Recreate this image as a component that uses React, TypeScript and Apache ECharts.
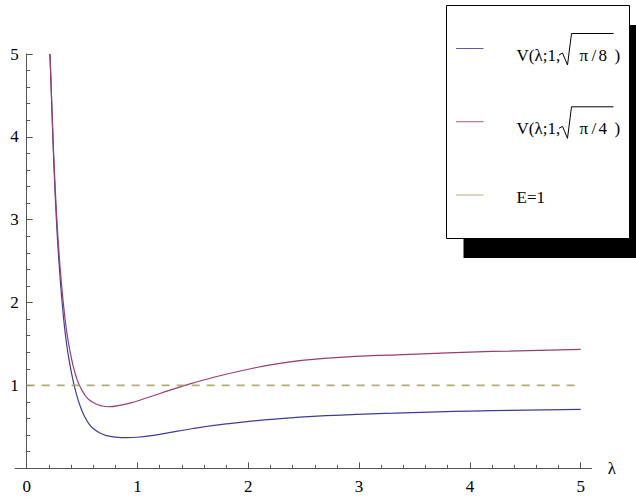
import React, { useEffect, useRef } from "react";
import * as echarts from "echarts";

// ---- data ----
const lambdaBlue = [0.21, 0.24, 0.27, 0.3, 0.33, 0.36, 0.39, 0.42, 0.45, 0.48, 0.52, 0.56, 0.6, 0.66, 0.72, 0.8, 0.9, 1.0, 1.2, 1.5, 1.8, 2.2, 2.7, 3.4, 4.2, 5.0];
const vBlue = [5.0, 3.85, 2.95, 2.33, 1.85, 1.5, 1.25, 1.05, 0.89, 0.76, 0.63, 0.54, 0.48, 0.425, 0.395, 0.377, 0.37, 0.375, 0.41, 0.48, 0.535, 0.59, 0.635, 0.67, 0.695, 0.712];

const lambdaPurple = [0.21, 0.24, 0.27, 0.3, 0.33, 0.36, 0.39, 0.42, 0.45, 0.48, 0.52, 0.56, 0.62, 0.68, 0.74, 0.85, 0.963, 1.08, 1.204, 1.415, 1.656, 1.927, 2.3, 2.75, 3.4, 4.2, 5.0];
const vPurple = [5.0, 3.9, 3.05, 2.45, 2.0, 1.66, 1.42, 1.23, 1.09, 0.99, 0.895, 0.83, 0.78, 0.752, 0.743, 0.762, 0.797, 0.848, 0.903, 0.995, 1.087, 1.174, 1.27, 1.333, 1.373, 1.41, 1.436];

const energyLambda = [0, 5];
const energyValue = [1, 1];

const xRange = [0, 5];
const yRange = [0, 5];
const axisLineRange = [-0.1057, 5.0994];

const seriesNames = ["V(λ;1,√(π/8))", "V(λ;1,√(π/4))", "E=1"];

const BLUE = "#3d3d99";
const PURPLE = "#993d71";
const OLIVE = "#a89c5c";
const AXIS = "#555555";
const FONT = "Liberation Serif";

const pairs = (xs: number[], ys: number[]) => xs.map((x, i) => [x, ys[i]]);

export default function App() {
  const ref = useRef<HTMLDivElement>(null);
  useEffect(() => {
    if (!ref.current) return;
    const chart = echarts.init(ref.current, undefined, { renderer: "svg" });

    const legendText = (x: number, y: number, text: string) => ({
      type: "text",
      x,
      y,
      z: 102,
      style: { text, fill: "#000", fontFamily: FONT, fontSize: 17, textVerticalAlign: "middle" },
    });

    const radical = (dy: number) => ({
      type: "polyline",
      z: 102,
      shape: {
        points: [
          [559, 55 + dy],
          [562.5, 53 + dy],
          [567.5, 65 + dy],
          [571.5, 33.5 + dy],
          [613.5, 33.5 + dy],
        ],
      },
      style: { stroke: "#000", lineWidth: 1, fill: null },
    });

    const entry = (dy: number, denom: string) => [
      legendText(516.5, 55.5 + dy, "V(λ;1,"),
      radical(dy),
      legendText(579.5, 55.5 + dy, "π"),
      legendText(591.5, 55.5 + dy, "/"),
      legendText(598.5, 55.5 + dy, denom),
      legendText(614.5, 55.5 + dy, ")"),
    ];

    chart.setOption({
      animation: false,
      backgroundColor: "#ffffff",
      grid: [
        { left: 26.7, right: 55.3, top: 54, bottom: 28.7, containLabel: false, outerBoundsMode: "none" },
        { left: 15, right: 44.3, top: 54, bottom: 28.7, containLabel: false, outerBoundsMode: "none" },
      ],
      xAxis: [
        {
          type: "value",
          gridIndex: 0,
          min: xRange[0],
          max: xRange[1],
          interval: 1,
          position: "bottom",
          axisLine: { show: false },
          axisTick: { show: true, inside: true, length: 6, lineStyle: { color: AXIS } },
          minorTick: { show: true, splitNumber: 5, length: 3.5, lineStyle: { color: AXIS } },
          axisLabel: { show: true, margin: 10, fontFamily: FONT, fontSize: 17, color: "#000" },
          splitLine: { show: false },
          minorSplitLine: { show: false },
        },
        {
          type: "value",
          gridIndex: 1,
          min: axisLineRange[0],
          max: axisLineRange[1],
          position: "bottom",
          name: "λ",
          nameLocation: "end",
          nameGap: 16,
          nameTextStyle: { fontFamily: FONT, fontSize: 17, color: "#000", padding: [0, 0, 4, 0] },
          axisLine: { show: true, onZero: false, lineStyle: { color: AXIS, width: 1 } },
          axisTick: { show: false },
          axisLabel: { show: false },
          splitLine: { show: false },
        },
      ],
      yAxis: [
        {
          type: "value",
          gridIndex: 0,
          min: yRange[0],
          max: yRange[1],
          interval: 1,
          axisLine: { show: true, onZero: false, lineStyle: { color: AXIS, width: 1 } },
          axisTick: { show: true, inside: true, length: 6, lineStyle: { color: AXIS } },
          minorTick: { show: true, splitNumber: 5, length: 3.5, lineStyle: { color: AXIS } },
          axisLabel: {
            margin: 8,
            fontFamily: FONT,
            fontSize: 17,
            color: "#000",
            formatter: (v: number) => (v === 0 ? "" : String(v)),
          },
          splitLine: { show: false },
          minorSplitLine: { show: false },
        },
        {
          type: "value",
          gridIndex: 1,
          min: yRange[0],
          max: yRange[1],
          show: false,
        },
      ],
      series: [
        {
          name: seriesNames[0],
          type: "line",
          xAxisIndex: 0,
          yAxisIndex: 0,
          data: pairs(lambdaBlue, vBlue),
          showSymbol: false,
          smooth: 0.5,
          lineStyle: { color: BLUE, width: 1.2 },
          itemStyle: { color: BLUE },
          clip: true,
        },
        {
          name: seriesNames[1],
          type: "line",
          xAxisIndex: 0,
          yAxisIndex: 0,
          data: pairs(lambdaPurple, vPurple),
          showSymbol: false,
          smooth: 0.5,
          lineStyle: { color: PURPLE, width: 1.2 },
          itemStyle: { color: PURPLE },
          clip: true,
        },
        {
          name: seriesNames[2],
          type: "line",
          xAxisIndex: 0,
          yAxisIndex: 0,
          data: pairs(energyLambda, energyValue),
          showSymbol: false,
          lineStyle: { color: OLIVE, width: 1.8, type: [8, 7], opacity: 0.85 },
          itemStyle: { color: OLIVE },
        },
      ],
      graphic: [
        { type: "rect", z: 100, shape: { x: 463.5, y: 25, width: 190, height: 233 }, style: { fill: "#000" } },
        { type: "rect", z: 101, shape: { x: 446.5, y: 5.5, width: 183, height: 233 }, style: { fill: "#fff", stroke: "#000", lineWidth: 1 } },
        { type: "line", z: 102, shape: { x1: 456, y1: 48.5, x2: 483.5, y2: 48.5 }, style: { stroke: BLUE, lineWidth: 1, opacity: 0.85 } },
        { type: "line", z: 102, shape: { x1: 456, y1: 121.7, x2: 483.5, y2: 121.7 }, style: { stroke: PURPLE, lineWidth: 1, opacity: 0.85 } },
        { type: "line", z: 102, shape: { x1: 456, y1: 195, x2: 483.5, y2: 195 }, style: { stroke: OLIVE, lineWidth: 1, opacity: 0.85 } },
        ...entry(0, "8"),
        ...entry(73.3, "4"),
        legendText(516.5, 197.5, "E=1"),
      ],
    });
    return () => chart.dispose();
  }, []);
  return (
    <div
      ref={ref}
      style={{ position: "fixed", left: 0, top: 0, width: 636, height: 497, background: "#fff" }}
    />
  );
}
